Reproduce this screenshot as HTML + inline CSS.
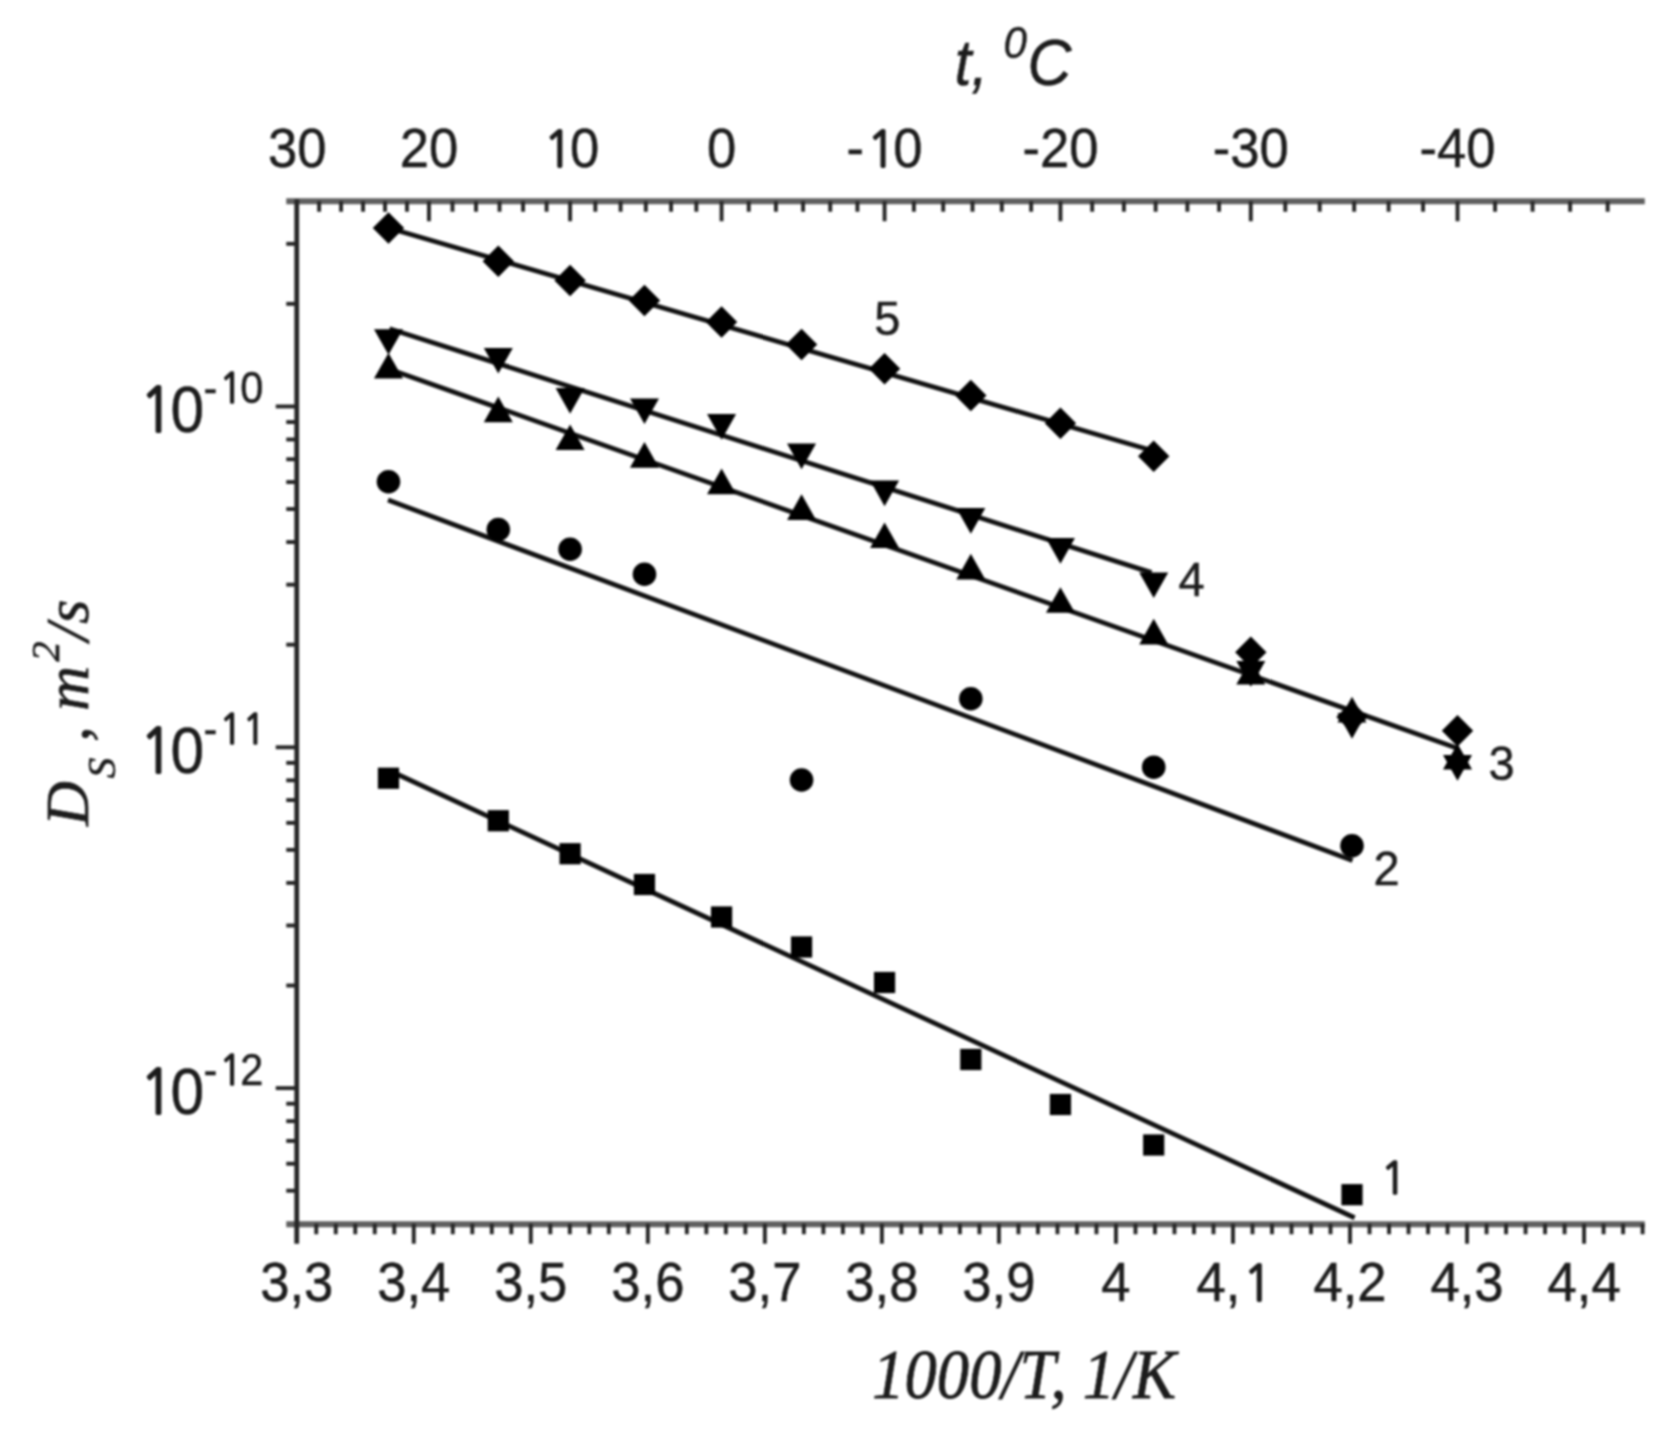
<!DOCTYPE html>
<html lang="en">
<head>
<meta charset="utf-8">
<title>Diffusion coefficient vs 1000/T</title>
<style>
html,body{margin:0;padding:0;background:#fff;}
body{width:1680px;height:1432px;overflow:hidden;}
#plot{width:1680px;height:1432px;filter:blur(1.15px);}
svg{display:block;}
svg text{white-space:pre;}
</style>
</head>
<body>
<div id="plot"><svg width="1680" height="1432" viewBox="0 0 1680 1432">
<rect x="0" y="0" width="1680" height="1432" fill="#ffffff"/>
<g id="axes">
<line x1="286.25" y1="201.25" x2="1644.80" y2="201.25" stroke="#606060" stroke-width="6.0" stroke-linecap="butt"/>
<line x1="286.25" y1="1224.35" x2="1644.80" y2="1224.35" stroke="#606060" stroke-width="6.0" stroke-linecap="butt"/>
<line x1="296.75" y1="199.25" x2="296.75" y2="1243.75" stroke="#262626" stroke-width="4.8" stroke-linecap="butt"/>
<line x1="316.25" y1="1223.75" x2="316.25" y2="1234.25" stroke="#262626" stroke-width="3.9" stroke-linecap="butt"/>
<line x1="335.76" y1="1223.75" x2="335.76" y2="1234.25" stroke="#262626" stroke-width="3.9" stroke-linecap="butt"/>
<line x1="355.26" y1="1223.75" x2="355.26" y2="1234.25" stroke="#262626" stroke-width="3.9" stroke-linecap="butt"/>
<line x1="374.77" y1="1223.75" x2="374.77" y2="1234.25" stroke="#262626" stroke-width="3.9" stroke-linecap="butt"/>
<line x1="394.27" y1="1223.75" x2="394.27" y2="1234.25" stroke="#262626" stroke-width="3.9" stroke-linecap="butt"/>
<line x1="413.78" y1="1223.75" x2="413.78" y2="1243.75" stroke="#262626" stroke-width="3.9" stroke-linecap="butt"/>
<line x1="433.29" y1="1223.75" x2="433.29" y2="1234.25" stroke="#262626" stroke-width="3.9" stroke-linecap="butt"/>
<line x1="452.79" y1="1223.75" x2="452.79" y2="1234.25" stroke="#262626" stroke-width="3.9" stroke-linecap="butt"/>
<line x1="472.30" y1="1223.75" x2="472.30" y2="1234.25" stroke="#262626" stroke-width="3.9" stroke-linecap="butt"/>
<line x1="491.80" y1="1223.75" x2="491.80" y2="1234.25" stroke="#262626" stroke-width="3.9" stroke-linecap="butt"/>
<line x1="511.31" y1="1223.75" x2="511.31" y2="1234.25" stroke="#262626" stroke-width="3.9" stroke-linecap="butt"/>
<line x1="530.81" y1="1223.75" x2="530.81" y2="1243.75" stroke="#262626" stroke-width="3.9" stroke-linecap="butt"/>
<line x1="550.32" y1="1223.75" x2="550.32" y2="1234.25" stroke="#262626" stroke-width="3.9" stroke-linecap="butt"/>
<line x1="569.82" y1="1223.75" x2="569.82" y2="1234.25" stroke="#262626" stroke-width="3.9" stroke-linecap="butt"/>
<line x1="589.33" y1="1223.75" x2="589.33" y2="1234.25" stroke="#262626" stroke-width="3.9" stroke-linecap="butt"/>
<line x1="608.83" y1="1223.75" x2="608.83" y2="1234.25" stroke="#262626" stroke-width="3.9" stroke-linecap="butt"/>
<line x1="628.34" y1="1223.75" x2="628.34" y2="1234.25" stroke="#262626" stroke-width="3.9" stroke-linecap="butt"/>
<line x1="647.84" y1="1223.75" x2="647.84" y2="1243.75" stroke="#262626" stroke-width="3.9" stroke-linecap="butt"/>
<line x1="667.34" y1="1223.75" x2="667.34" y2="1234.25" stroke="#262626" stroke-width="3.9" stroke-linecap="butt"/>
<line x1="686.85" y1="1223.75" x2="686.85" y2="1234.25" stroke="#262626" stroke-width="3.9" stroke-linecap="butt"/>
<line x1="706.35" y1="1223.75" x2="706.35" y2="1234.25" stroke="#262626" stroke-width="3.9" stroke-linecap="butt"/>
<line x1="725.86" y1="1223.75" x2="725.86" y2="1234.25" stroke="#262626" stroke-width="3.9" stroke-linecap="butt"/>
<line x1="745.36" y1="1223.75" x2="745.36" y2="1234.25" stroke="#262626" stroke-width="3.9" stroke-linecap="butt"/>
<line x1="764.87" y1="1223.75" x2="764.87" y2="1243.75" stroke="#262626" stroke-width="3.9" stroke-linecap="butt"/>
<line x1="784.37" y1="1223.75" x2="784.37" y2="1234.25" stroke="#262626" stroke-width="3.9" stroke-linecap="butt"/>
<line x1="803.88" y1="1223.75" x2="803.88" y2="1234.25" stroke="#262626" stroke-width="3.9" stroke-linecap="butt"/>
<line x1="823.38" y1="1223.75" x2="823.38" y2="1234.25" stroke="#262626" stroke-width="3.9" stroke-linecap="butt"/>
<line x1="842.89" y1="1223.75" x2="842.89" y2="1234.25" stroke="#262626" stroke-width="3.9" stroke-linecap="butt"/>
<line x1="862.39" y1="1223.75" x2="862.39" y2="1234.25" stroke="#262626" stroke-width="3.9" stroke-linecap="butt"/>
<line x1="881.90" y1="1223.75" x2="881.90" y2="1243.75" stroke="#262626" stroke-width="3.9" stroke-linecap="butt"/>
<line x1="901.40" y1="1223.75" x2="901.40" y2="1234.25" stroke="#262626" stroke-width="3.9" stroke-linecap="butt"/>
<line x1="920.91" y1="1223.75" x2="920.91" y2="1234.25" stroke="#262626" stroke-width="3.9" stroke-linecap="butt"/>
<line x1="940.41" y1="1223.75" x2="940.41" y2="1234.25" stroke="#262626" stroke-width="3.9" stroke-linecap="butt"/>
<line x1="959.92" y1="1223.75" x2="959.92" y2="1234.25" stroke="#262626" stroke-width="3.9" stroke-linecap="butt"/>
<line x1="979.42" y1="1223.75" x2="979.42" y2="1234.25" stroke="#262626" stroke-width="3.9" stroke-linecap="butt"/>
<line x1="998.93" y1="1223.75" x2="998.93" y2="1243.75" stroke="#262626" stroke-width="3.9" stroke-linecap="butt"/>
<line x1="1018.44" y1="1223.75" x2="1018.44" y2="1234.25" stroke="#262626" stroke-width="3.9" stroke-linecap="butt"/>
<line x1="1037.94" y1="1223.75" x2="1037.94" y2="1234.25" stroke="#262626" stroke-width="3.9" stroke-linecap="butt"/>
<line x1="1057.45" y1="1223.75" x2="1057.45" y2="1234.25" stroke="#262626" stroke-width="3.9" stroke-linecap="butt"/>
<line x1="1076.95" y1="1223.75" x2="1076.95" y2="1234.25" stroke="#262626" stroke-width="3.9" stroke-linecap="butt"/>
<line x1="1096.46" y1="1223.75" x2="1096.46" y2="1234.25" stroke="#262626" stroke-width="3.9" stroke-linecap="butt"/>
<line x1="1115.96" y1="1223.75" x2="1115.96" y2="1243.75" stroke="#262626" stroke-width="3.9" stroke-linecap="butt"/>
<line x1="1135.47" y1="1223.75" x2="1135.47" y2="1234.25" stroke="#262626" stroke-width="3.9" stroke-linecap="butt"/>
<line x1="1154.97" y1="1223.75" x2="1154.97" y2="1234.25" stroke="#262626" stroke-width="3.9" stroke-linecap="butt"/>
<line x1="1174.48" y1="1223.75" x2="1174.48" y2="1234.25" stroke="#262626" stroke-width="3.9" stroke-linecap="butt"/>
<line x1="1193.98" y1="1223.75" x2="1193.98" y2="1234.25" stroke="#262626" stroke-width="3.9" stroke-linecap="butt"/>
<line x1="1213.49" y1="1223.75" x2="1213.49" y2="1234.25" stroke="#262626" stroke-width="3.9" stroke-linecap="butt"/>
<line x1="1232.99" y1="1223.75" x2="1232.99" y2="1243.75" stroke="#262626" stroke-width="3.9" stroke-linecap="butt"/>
<line x1="1252.49" y1="1223.75" x2="1252.49" y2="1234.25" stroke="#262626" stroke-width="3.9" stroke-linecap="butt"/>
<line x1="1272.00" y1="1223.75" x2="1272.00" y2="1234.25" stroke="#262626" stroke-width="3.9" stroke-linecap="butt"/>
<line x1="1291.50" y1="1223.75" x2="1291.50" y2="1234.25" stroke="#262626" stroke-width="3.9" stroke-linecap="butt"/>
<line x1="1311.01" y1="1223.75" x2="1311.01" y2="1234.25" stroke="#262626" stroke-width="3.9" stroke-linecap="butt"/>
<line x1="1330.51" y1="1223.75" x2="1330.51" y2="1234.25" stroke="#262626" stroke-width="3.9" stroke-linecap="butt"/>
<line x1="1350.02" y1="1223.75" x2="1350.02" y2="1243.75" stroke="#262626" stroke-width="3.9" stroke-linecap="butt"/>
<line x1="1369.53" y1="1223.75" x2="1369.53" y2="1234.25" stroke="#262626" stroke-width="3.9" stroke-linecap="butt"/>
<line x1="1389.03" y1="1223.75" x2="1389.03" y2="1234.25" stroke="#262626" stroke-width="3.9" stroke-linecap="butt"/>
<line x1="1408.54" y1="1223.75" x2="1408.54" y2="1234.25" stroke="#262626" stroke-width="3.9" stroke-linecap="butt"/>
<line x1="1428.04" y1="1223.75" x2="1428.04" y2="1234.25" stroke="#262626" stroke-width="3.9" stroke-linecap="butt"/>
<line x1="1447.55" y1="1223.75" x2="1447.55" y2="1234.25" stroke="#262626" stroke-width="3.9" stroke-linecap="butt"/>
<line x1="1467.05" y1="1223.75" x2="1467.05" y2="1243.75" stroke="#262626" stroke-width="3.9" stroke-linecap="butt"/>
<line x1="1486.56" y1="1223.75" x2="1486.56" y2="1234.25" stroke="#262626" stroke-width="3.9" stroke-linecap="butt"/>
<line x1="1506.06" y1="1223.75" x2="1506.06" y2="1234.25" stroke="#262626" stroke-width="3.9" stroke-linecap="butt"/>
<line x1="1525.57" y1="1223.75" x2="1525.57" y2="1234.25" stroke="#262626" stroke-width="3.9" stroke-linecap="butt"/>
<line x1="1545.07" y1="1223.75" x2="1545.07" y2="1234.25" stroke="#262626" stroke-width="3.9" stroke-linecap="butt"/>
<line x1="1564.58" y1="1223.75" x2="1564.58" y2="1234.25" stroke="#262626" stroke-width="3.9" stroke-linecap="butt"/>
<line x1="1584.08" y1="1223.75" x2="1584.08" y2="1243.75" stroke="#262626" stroke-width="3.9" stroke-linecap="butt"/>
<line x1="1603.59" y1="1223.75" x2="1603.59" y2="1234.25" stroke="#262626" stroke-width="3.9" stroke-linecap="butt"/>
<line x1="1623.09" y1="1223.75" x2="1623.09" y2="1234.25" stroke="#262626" stroke-width="3.9" stroke-linecap="butt"/>
<line x1="1642.60" y1="1223.75" x2="1642.60" y2="1234.25" stroke="#262626" stroke-width="3.9" stroke-linecap="butt"/>
<line x1="319.11" y1="201.25" x2="319.11" y2="211.75" stroke="#262626" stroke-width="3.9" stroke-linecap="butt"/>
<line x1="341.08" y1="201.25" x2="341.08" y2="211.75" stroke="#262626" stroke-width="3.9" stroke-linecap="butt"/>
<line x1="363.05" y1="201.25" x2="363.05" y2="211.75" stroke="#262626" stroke-width="3.9" stroke-linecap="butt"/>
<line x1="385.02" y1="201.25" x2="385.02" y2="211.75" stroke="#262626" stroke-width="3.9" stroke-linecap="butt"/>
<line x1="406.99" y1="201.25" x2="406.99" y2="211.75" stroke="#262626" stroke-width="3.9" stroke-linecap="butt"/>
<line x1="428.96" y1="201.25" x2="428.96" y2="221.25" stroke="#262626" stroke-width="3.9" stroke-linecap="butt"/>
<line x1="452.48" y1="201.25" x2="452.48" y2="211.75" stroke="#262626" stroke-width="3.9" stroke-linecap="butt"/>
<line x1="476.00" y1="201.25" x2="476.00" y2="211.75" stroke="#262626" stroke-width="3.9" stroke-linecap="butt"/>
<line x1="499.53" y1="201.25" x2="499.53" y2="211.75" stroke="#262626" stroke-width="3.9" stroke-linecap="butt"/>
<line x1="523.05" y1="201.25" x2="523.05" y2="211.75" stroke="#262626" stroke-width="3.9" stroke-linecap="butt"/>
<line x1="546.57" y1="201.25" x2="546.57" y2="211.75" stroke="#262626" stroke-width="3.9" stroke-linecap="butt"/>
<line x1="570.10" y1="201.25" x2="570.10" y2="221.25" stroke="#262626" stroke-width="3.9" stroke-linecap="butt"/>
<line x1="595.34" y1="201.25" x2="595.34" y2="211.75" stroke="#262626" stroke-width="3.9" stroke-linecap="butt"/>
<line x1="620.59" y1="201.25" x2="620.59" y2="211.75" stroke="#262626" stroke-width="3.9" stroke-linecap="butt"/>
<line x1="645.83" y1="201.25" x2="645.83" y2="211.75" stroke="#262626" stroke-width="3.9" stroke-linecap="butt"/>
<line x1="671.08" y1="201.25" x2="671.08" y2="211.75" stroke="#262626" stroke-width="3.9" stroke-linecap="butt"/>
<line x1="696.33" y1="201.25" x2="696.33" y2="211.75" stroke="#262626" stroke-width="3.9" stroke-linecap="butt"/>
<line x1="721.57" y1="201.25" x2="721.57" y2="221.25" stroke="#262626" stroke-width="3.9" stroke-linecap="butt"/>
<line x1="748.74" y1="201.25" x2="748.74" y2="211.75" stroke="#262626" stroke-width="3.9" stroke-linecap="butt"/>
<line x1="775.91" y1="201.25" x2="775.91" y2="211.75" stroke="#262626" stroke-width="3.9" stroke-linecap="butt"/>
<line x1="803.07" y1="201.25" x2="803.07" y2="211.75" stroke="#262626" stroke-width="3.9" stroke-linecap="butt"/>
<line x1="830.24" y1="201.25" x2="830.24" y2="211.75" stroke="#262626" stroke-width="3.9" stroke-linecap="butt"/>
<line x1="857.40" y1="201.25" x2="857.40" y2="211.75" stroke="#262626" stroke-width="3.9" stroke-linecap="butt"/>
<line x1="884.57" y1="201.25" x2="884.57" y2="221.25" stroke="#262626" stroke-width="3.9" stroke-linecap="butt"/>
<line x1="913.88" y1="201.25" x2="913.88" y2="211.75" stroke="#262626" stroke-width="3.9" stroke-linecap="butt"/>
<line x1="943.20" y1="201.25" x2="943.20" y2="211.75" stroke="#262626" stroke-width="3.9" stroke-linecap="butt"/>
<line x1="972.51" y1="201.25" x2="972.51" y2="211.75" stroke="#262626" stroke-width="3.9" stroke-linecap="butt"/>
<line x1="1001.82" y1="201.25" x2="1001.82" y2="211.75" stroke="#262626" stroke-width="3.9" stroke-linecap="butt"/>
<line x1="1031.14" y1="201.25" x2="1031.14" y2="211.75" stroke="#262626" stroke-width="3.9" stroke-linecap="butt"/>
<line x1="1060.45" y1="201.25" x2="1060.45" y2="221.25" stroke="#262626" stroke-width="3.9" stroke-linecap="butt"/>
<line x1="1092.18" y1="201.25" x2="1092.18" y2="211.75" stroke="#262626" stroke-width="3.9" stroke-linecap="butt"/>
<line x1="1123.90" y1="201.25" x2="1123.90" y2="211.75" stroke="#262626" stroke-width="3.9" stroke-linecap="butt"/>
<line x1="1155.63" y1="201.25" x2="1155.63" y2="211.75" stroke="#262626" stroke-width="3.9" stroke-linecap="butt"/>
<line x1="1187.36" y1="201.25" x2="1187.36" y2="211.75" stroke="#262626" stroke-width="3.9" stroke-linecap="butt"/>
<line x1="1219.08" y1="201.25" x2="1219.08" y2="211.75" stroke="#262626" stroke-width="3.9" stroke-linecap="butt"/>
<line x1="1250.81" y1="201.25" x2="1250.81" y2="221.25" stroke="#262626" stroke-width="3.9" stroke-linecap="butt"/>
<line x1="1285.26" y1="201.25" x2="1285.26" y2="211.75" stroke="#262626" stroke-width="3.9" stroke-linecap="butt"/>
<line x1="1319.71" y1="201.25" x2="1319.71" y2="211.75" stroke="#262626" stroke-width="3.9" stroke-linecap="butt"/>
<line x1="1354.16" y1="201.25" x2="1354.16" y2="211.75" stroke="#262626" stroke-width="3.9" stroke-linecap="butt"/>
<line x1="1388.61" y1="201.25" x2="1388.61" y2="211.75" stroke="#262626" stroke-width="3.9" stroke-linecap="butt"/>
<line x1="1423.06" y1="201.25" x2="1423.06" y2="211.75" stroke="#262626" stroke-width="3.9" stroke-linecap="butt"/>
<line x1="1457.51" y1="201.25" x2="1457.51" y2="221.25" stroke="#262626" stroke-width="3.9" stroke-linecap="butt"/>
<line x1="1495.05" y1="201.25" x2="1495.05" y2="211.75" stroke="#262626" stroke-width="3.9" stroke-linecap="butt"/>
<line x1="1532.59" y1="201.25" x2="1532.59" y2="211.75" stroke="#262626" stroke-width="3.9" stroke-linecap="butt"/>
<line x1="1570.12" y1="201.25" x2="1570.12" y2="211.75" stroke="#262626" stroke-width="3.9" stroke-linecap="butt"/>
<line x1="1607.66" y1="201.25" x2="1607.66" y2="211.75" stroke="#262626" stroke-width="3.9" stroke-linecap="butt"/>
<line x1="275.75" y1="406.45" x2="296.75" y2="406.45" stroke="#262626" stroke-width="3.9" stroke-linecap="butt"/>
<line x1="286.25" y1="303.85" x2="296.75" y2="303.85" stroke="#262626" stroke-width="3.9" stroke-linecap="butt"/>
<line x1="286.25" y1="243.83" x2="296.75" y2="243.83" stroke="#262626" stroke-width="3.9" stroke-linecap="butt"/>
<line x1="275.75" y1="747.29" x2="296.75" y2="747.29" stroke="#262626" stroke-width="3.9" stroke-linecap="butt"/>
<line x1="286.25" y1="644.68" x2="296.75" y2="644.68" stroke="#262626" stroke-width="3.9" stroke-linecap="butt"/>
<line x1="286.25" y1="584.67" x2="296.75" y2="584.67" stroke="#262626" stroke-width="3.9" stroke-linecap="butt"/>
<line x1="286.25" y1="542.08" x2="296.75" y2="542.08" stroke="#262626" stroke-width="3.9" stroke-linecap="butt"/>
<line x1="286.25" y1="509.05" x2="296.75" y2="509.05" stroke="#262626" stroke-width="3.9" stroke-linecap="butt"/>
<line x1="286.25" y1="482.07" x2="296.75" y2="482.07" stroke="#262626" stroke-width="3.9" stroke-linecap="butt"/>
<line x1="286.25" y1="459.25" x2="296.75" y2="459.25" stroke="#262626" stroke-width="3.9" stroke-linecap="butt"/>
<line x1="286.25" y1="439.48" x2="296.75" y2="439.48" stroke="#262626" stroke-width="3.9" stroke-linecap="butt"/>
<line x1="286.25" y1="422.05" x2="296.75" y2="422.05" stroke="#262626" stroke-width="3.9" stroke-linecap="butt"/>
<line x1="275.75" y1="1088.12" x2="296.75" y2="1088.12" stroke="#262626" stroke-width="3.9" stroke-linecap="butt"/>
<line x1="286.25" y1="985.52" x2="296.75" y2="985.52" stroke="#262626" stroke-width="3.9" stroke-linecap="butt"/>
<line x1="286.25" y1="925.50" x2="296.75" y2="925.50" stroke="#262626" stroke-width="3.9" stroke-linecap="butt"/>
<line x1="286.25" y1="882.92" x2="296.75" y2="882.92" stroke="#262626" stroke-width="3.9" stroke-linecap="butt"/>
<line x1="286.25" y1="849.89" x2="296.75" y2="849.89" stroke="#262626" stroke-width="3.9" stroke-linecap="butt"/>
<line x1="286.25" y1="822.90" x2="296.75" y2="822.90" stroke="#262626" stroke-width="3.9" stroke-linecap="butt"/>
<line x1="286.25" y1="800.08" x2="296.75" y2="800.08" stroke="#262626" stroke-width="3.9" stroke-linecap="butt"/>
<line x1="286.25" y1="780.32" x2="296.75" y2="780.32" stroke="#262626" stroke-width="3.9" stroke-linecap="butt"/>
<line x1="286.25" y1="762.88" x2="296.75" y2="762.88" stroke="#262626" stroke-width="3.9" stroke-linecap="butt"/>
<line x1="286.25" y1="1190.72" x2="296.75" y2="1190.72" stroke="#262626" stroke-width="3.9" stroke-linecap="butt"/>
<line x1="286.25" y1="1163.73" x2="296.75" y2="1163.73" stroke="#262626" stroke-width="3.9" stroke-linecap="butt"/>
<line x1="286.25" y1="1140.91" x2="296.75" y2="1140.91" stroke="#262626" stroke-width="3.9" stroke-linecap="butt"/>
<line x1="286.25" y1="1121.15" x2="296.75" y2="1121.15" stroke="#262626" stroke-width="3.9" stroke-linecap="butt"/>
<line x1="286.25" y1="1103.71" x2="296.75" y2="1103.71" stroke="#262626" stroke-width="3.9" stroke-linecap="butt"/>
</g>
<g id="fits">
<line x1="388.75" y1="228.00" x2="1154.50" y2="451.30" stroke="#111" stroke-width="4.8" stroke-linecap="butt"/>
<line x1="389.50" y1="328.80" x2="1151.50" y2="572.60" stroke="#111" stroke-width="4.8" stroke-linecap="butt"/>
<line x1="388.75" y1="368.90" x2="1458.00" y2="748.60" stroke="#111" stroke-width="4.8" stroke-linecap="butt"/>
<line x1="388.00" y1="500.00" x2="1352.50" y2="860.50" stroke="#111" stroke-width="4.8" stroke-linecap="butt"/>
<line x1="389.25" y1="770.50" x2="1354.60" y2="1217.80" stroke="#111" stroke-width="4.8" stroke-linecap="butt"/>
</g>
<g id="markers" fill="#000">
<path d="M388.48 212.30 L404.18 228.00 L388.48 243.70 L372.78 228.00Z"/>
<path d="M498.30 245.55 L514.00 261.25 L498.30 276.95 L482.60 261.25Z"/>
<path d="M570.10 264.80 L585.80 280.50 L570.10 296.20 L554.40 280.50Z"/>
<path d="M644.47 284.80 L660.17 300.50 L644.47 316.20 L628.77 300.50Z"/>
<path d="M721.57 306.30 L737.27 322.00 L721.57 337.70 L705.87 322.00Z"/>
<path d="M801.55 328.80 L817.25 344.50 L801.55 360.20 L785.85 344.50Z"/>
<path d="M884.57 353.05 L900.27 368.75 L884.57 384.45 L868.87 368.75Z"/>
<path d="M970.81 379.80 L986.51 395.50 L970.81 411.20 L955.11 395.50Z"/>
<path d="M1060.45 407.55 L1076.15 423.25 L1060.45 438.95 L1044.75 423.25Z"/>
<path d="M1153.71 440.55 L1169.41 456.25 L1153.71 471.95 L1138.01 456.25Z"/>
<path d="M1250.81 636.60 L1266.51 652.30 L1250.81 668.00 L1235.11 652.30Z"/>
<path d="M1351.99 701.30 L1367.69 717.00 L1351.99 732.70 L1336.29 717.00Z"/>
<path d="M1457.51 715.00 L1473.21 730.70 L1457.51 746.40 L1441.81 730.70Z"/>
<path d="M373.98 329.20 L402.98 329.20 L388.48 354.80Z"/>
<path d="M483.80 347.90 L512.80 347.90 L498.30 373.50Z"/>
<path d="M555.60 388.10 L584.60 388.10 L570.10 413.70Z"/>
<path d="M629.97 398.50 L658.97 398.50 L644.47 424.10Z"/>
<path d="M707.07 414.10 L736.07 414.10 L721.57 439.70Z"/>
<path d="M787.05 443.60 L816.05 443.60 L801.55 469.20Z"/>
<path d="M870.07 480.60 L899.07 480.60 L884.57 506.20Z"/>
<path d="M956.31 508.10 L985.31 508.10 L970.81 533.70Z"/>
<path d="M1045.95 538.10 L1074.95 538.10 L1060.45 563.70Z"/>
<path d="M1139.21 572.40 L1168.21 572.40 L1153.71 598.00Z"/>
<path d="M1236.31 661.10 L1265.31 661.10 L1250.81 686.70Z"/>
<path d="M1337.49 713.10 L1366.49 713.10 L1351.99 738.70Z"/>
<path d="M1443.01 755.10 L1472.01 755.10 L1457.51 780.70Z"/>
<path d="M388.48 353.00 L402.98 378.60 L373.98 378.60Z"/>
<path d="M498.30 396.60 L512.80 422.20 L483.80 422.20Z"/>
<path d="M570.10 424.40 L584.60 450.00 L555.60 450.00Z"/>
<path d="M644.47 442.10 L658.97 467.70 L629.97 467.70Z"/>
<path d="M721.57 468.60 L736.07 494.20 L707.07 494.20Z"/>
<path d="M801.55 494.30 L816.05 519.90 L787.05 519.90Z"/>
<path d="M884.57 522.40 L899.07 548.00 L870.07 548.00Z"/>
<path d="M970.81 553.80 L985.31 579.40 L956.31 579.40Z"/>
<path d="M1060.45 587.20 L1074.95 612.80 L1045.95 612.80Z"/>
<path d="M1153.71 618.80 L1168.21 644.40 L1139.21 644.40Z"/>
<path d="M1250.81 658.80 L1265.31 684.40 L1236.31 684.40Z"/>
<path d="M1351.99 696.80 L1366.49 722.40 L1337.49 722.40Z"/>
<path d="M1457.51 743.80 L1472.01 769.40 L1443.01 769.40Z"/>
<circle cx="388.48" cy="481.75" r="11.8"/>
<circle cx="498.30" cy="529.50" r="11.8"/>
<circle cx="570.10" cy="549.25" r="11.8"/>
<circle cx="644.47" cy="574.25" r="11.8"/>
<circle cx="801.55" cy="780.00" r="11.8"/>
<circle cx="970.81" cy="698.75" r="11.8"/>
<circle cx="1153.71" cy="767.20" r="11.8"/>
<circle cx="1351.99" cy="845.75" r="11.8"/>
<rect x="377.88" y="767.65" width="21.2" height="21.2"/>
<rect x="487.70" y="810.15" width="21.2" height="21.2"/>
<rect x="559.50" y="843.15" width="21.2" height="21.2"/>
<rect x="633.87" y="873.90" width="21.2" height="21.2"/>
<rect x="710.97" y="906.40" width="21.2" height="21.2"/>
<rect x="790.95" y="936.40" width="21.2" height="21.2"/>
<rect x="873.97" y="971.90" width="21.2" height="21.2"/>
<rect x="960.21" y="1048.90" width="21.2" height="21.2"/>
<rect x="1049.85" y="1093.90" width="21.2" height="21.2"/>
<rect x="1143.11" y="1134.40" width="21.2" height="21.2"/>
<rect x="1341.39" y="1184.10" width="21.2" height="21.2"/>
</g>
<g id="labels" fill="#1c1c1c" stroke="#1c1c1c" stroke-width="0.45" font-family="'Liberation Sans', sans-serif">
<text transform="translate(297.14 167.10) scale(1 1.04)" font-size="52.6" text-anchor="start"><tspan x="-29.25">30</tspan></text>
<text transform="translate(428.96 167.10) scale(1 1.04)" font-size="52.6" text-anchor="start"><tspan x="-29.25">20</tspan></text>
<text transform="translate(570.10 167.10) scale(1 1.04)" font-size="52.6" text-anchor="start"><tspan x="-26.62" font-family="'NanumGothic', 'Liberation Sans', sans-serif" font-size="48.71" stroke-width="1.77">1</tspan><tspan x="0.00">0</tspan></text>
<text transform="translate(721.57 167.10) scale(1 1.04)" font-size="52.6" text-anchor="start"><tspan x="-14.62">0</tspan></text>
<text transform="translate(884.57 167.10) scale(1 1.04)" font-size="52.6" text-anchor="start"><tspan x="-38.00">-</tspan><tspan x="-17.86" font-family="'NanumGothic', 'Liberation Sans', sans-serif" font-size="48.71" stroke-width="1.77">1</tspan><tspan x="8.76">0</tspan></text>
<text transform="translate(1060.45 167.10) scale(1 1.04)" font-size="52.6" text-anchor="start"><tspan x="-38.00">-20</tspan></text>
<text transform="translate(1250.81 167.10) scale(1 1.04)" font-size="52.6" text-anchor="start"><tspan x="-38.00">-30</tspan></text>
<text transform="translate(1457.51 167.10) scale(1 1.04)" font-size="52.6" text-anchor="start"><tspan x="-38.00">-40</tspan></text>
<text transform="translate(296.75 1301.00) scale(1 1.04)" font-size="52.6" text-anchor="start"><tspan x="-36.56">3,3</tspan></text>
<text transform="translate(413.78 1301.00) scale(1 1.04)" font-size="52.6" text-anchor="start"><tspan x="-36.56">3,4</tspan></text>
<text transform="translate(530.81 1301.00) scale(1 1.04)" font-size="52.6" text-anchor="start"><tspan x="-36.56">3,5</tspan></text>
<text transform="translate(647.84 1301.00) scale(1 1.04)" font-size="52.6" text-anchor="start"><tspan x="-36.56">3,6</tspan></text>
<text transform="translate(764.87 1301.00) scale(1 1.04)" font-size="52.6" text-anchor="start"><tspan x="-36.56">3,7</tspan></text>
<text transform="translate(881.90 1301.00) scale(1 1.04)" font-size="52.6" text-anchor="start"><tspan x="-36.56">3,8</tspan></text>
<text transform="translate(998.93 1301.00) scale(1 1.04)" font-size="52.6" text-anchor="start"><tspan x="-36.56">3,9</tspan></text>
<text transform="translate(1115.96 1301.00) scale(1 1.04)" font-size="52.6" text-anchor="start"><tspan x="-14.62">4</tspan></text>
<text transform="translate(1232.99 1301.00) scale(1 1.04)" font-size="52.6" text-anchor="start"><tspan x="-36.56">4,</tspan><tspan x="9.94" font-family="'NanumGothic', 'Liberation Sans', sans-serif" font-size="48.71" stroke-width="1.77">1</tspan></text>
<text transform="translate(1350.02 1301.00) scale(1 1.04)" font-size="52.6" text-anchor="start"><tspan x="-36.56">4,2</tspan></text>
<text transform="translate(1467.05 1301.00) scale(1 1.04)" font-size="52.6" text-anchor="start"><tspan x="-36.56">4,3</tspan></text>
<text transform="translate(1584.08 1301.00) scale(1 1.04)" font-size="52.6" text-anchor="start"><tspan x="-36.56">4,4</tspan></text>
<text transform="translate(136.80 432.25) scale(1 1.085)" font-size="60.5" text-anchor="start"><tspan x="3.03" font-family="'NanumGothic', 'Liberation Sans', sans-serif" font-size="56.02" stroke-width="1.96">1</tspan><tspan x="33.64">0</tspan><tspan font-size="41.5"><tspan x="66.68" dy="-27.0">-</tspan><tspan x="82.57" font-family="'NanumGothic', 'Liberation Sans', sans-serif" font-size="38.43" stroke-width="1.49">1</tspan><tspan x="103.57">0</tspan></tspan></text>
<text transform="translate(136.80 773.09) scale(1 1.085)" font-size="60.5" text-anchor="start"><tspan x="3.03" font-family="'NanumGothic', 'Liberation Sans', sans-serif" font-size="56.02" stroke-width="1.96">1</tspan><tspan x="33.64">0</tspan><tspan font-size="41.5"><tspan x="66.68" dy="-27.0">-</tspan><tspan x="82.57" font-family="'NanumGothic', 'Liberation Sans', sans-serif" font-size="38.43" stroke-width="1.49">1</tspan><tspan x="105.64" font-family="'NanumGothic', 'Liberation Sans', sans-serif" font-size="38.43" stroke-width="1.49">1</tspan></tspan></text>
<text transform="translate(136.80 1113.92) scale(1 1.085)" font-size="60.5" text-anchor="start"><tspan x="3.03" font-family="'NanumGothic', 'Liberation Sans', sans-serif" font-size="56.02" stroke-width="1.96">1</tspan><tspan x="33.64">0</tspan><tspan font-size="41.5"><tspan x="66.68" dy="-27.0">-</tspan><tspan x="82.57" font-family="'NanumGothic', 'Liberation Sans', sans-serif" font-size="38.43" stroke-width="1.49">1</tspan><tspan x="103.57">2</tspan></tspan></text>
<text transform="translate(874.30 335.20) scale(1 1.04)" font-size="47" text-anchor="start"><tspan x="0.00">5</tspan></text>
<text transform="translate(1178.50 595.60) scale(1 1.04)" font-size="47" text-anchor="start"><tspan x="0.00">4</tspan></text>
<text transform="translate(1488.50 779.60) scale(1 1.04)" font-size="47" text-anchor="start"><tspan x="0.00">3</tspan></text>
<text transform="translate(1373.50 885.40) scale(1 1.04)" font-size="47" text-anchor="start"><tspan x="0.00">2</tspan></text>
<text transform="translate(1378.10 1193.50) scale(1 1.04)" font-size="47" text-anchor="start"><tspan x="2.35" font-family="'NanumGothic', 'Liberation Sans', sans-serif" font-size="43.52" stroke-width="1.62">1</tspan></text>
<text transform="translate(954.4 85.0) scale(1 1.058)" font-size="61" font-style="italic">t, <tspan font-size="42" dy="-25.5" dx="-1.6">0</tspan><tspan dy="25.5" dx="0.4">C</tspan></text>
</g>
<g id="titles" fill="#1c1c1c" stroke="#1c1c1c" stroke-width="0.7" font-family="'Liberation Serif', serif" font-style="italic">
<text transform="translate(1024.2 1398.2) scale(1 1.09)" font-size="64.6" text-anchor="middle">1000/T, 1/K</text>
<text transform="translate(88 826) rotate(-90)" font-size="62">D<tspan font-size="41" dy="27" dx="3">S</tspan><tspan dy="-27" dx="0.5"> , m</tspan><tspan font-size="40" dy="-29" dx="4.5">2</tspan><tspan dy="29" dx="0.5">/s</tspan></text>
</g>
</svg></div>
</body>
</html>
